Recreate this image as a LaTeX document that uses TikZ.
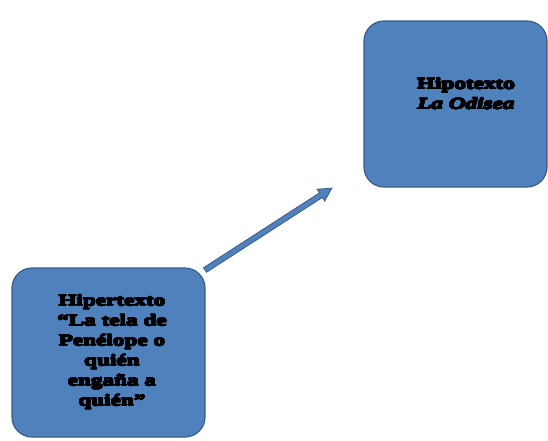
\documentclass[tikz,border=0pt]{standalone}
\usepackage{fontspec}
\usepackage[copies]{contour}
\setmainfont{Liberation Serif}
\newfontfamily\boxfont[FakeStretch=1.45]{Liberation Serif}
\contourlength{0.45pt}
\contournumber{16}
\newcommand{\heavy}[1]{\contour{black}{#1}}
\definecolor{boxfill}{HTML}{4F81BD}
\definecolor{boxedge}{HTML}{385D8A}
\tikzset{
  textbox/.style={draw=boxedge, line width=1.2pt, fill=boxfill, rounded corners=20pt},
  boxlabel/.style={align=center, font=\boxfont\bfseries\fontsize{16}{20}\selectfont, text=black, inner sep=0pt},
  blockarrow/.style={draw=boxedge, line width=0.8pt, fill=boxfill, line join=miter}
}
\begin{document}
\begin{tikzpicture}[x=1pt,y=-1pt]
  \useasboundingbox (0,0) rectangle (548,440);
  % source text (upper right)
  \draw[textbox] (364,21) rectangle (547,187);
  \node[boxlabel] (hipo) at (466,94) {\heavy{Hipotexto}\\\heavy{\itshape La Odisea}};
  % derived text (lower left)
  \draw[textbox] (12,268) rectangle (205,437);
  \node[boxlabel] (hiper) at (112,352) {\heavy{Hipertexto}\\\heavy{“La tela de}\\\heavy{Penélope o}\\\heavy{quién}\\\heavy{engaña a}\\\heavy{quién”}};
  % block arrow from the derived text toward the source text
  \coordinate (from) at (205,270);
  \coordinate (to) at (332,188);
  \begin{scope}[shift={(from)}, rotate=32.85]
    \draw[blockarrow] (0,-2.7) -- (138,-2.7) -- (138,-7) -- (151,0)
      -- (138,7) -- (138,2.7) -- (0,2.7) -- cycle;
  \end{scope}
\end{tikzpicture}
\end{document}
